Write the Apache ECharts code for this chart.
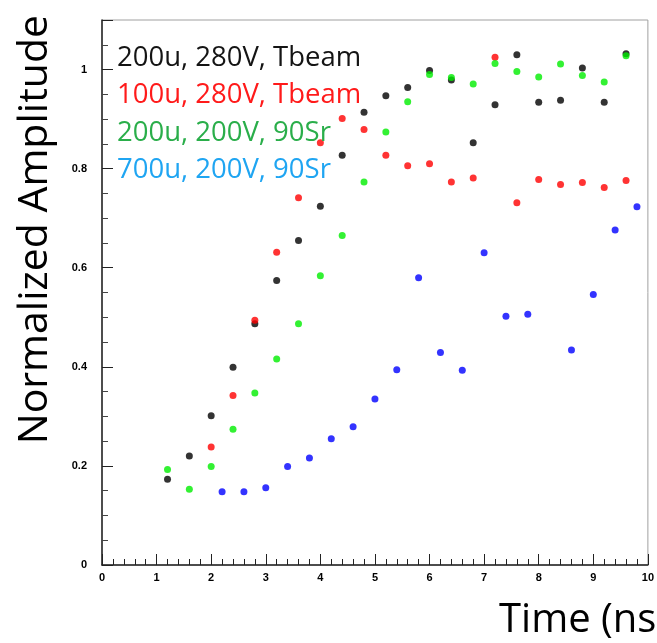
<!DOCTYPE html>
<html>
<head>
<meta charset="utf-8">
<script src="https://cdn.jsdelivr.net/npm/echarts@6/dist/echarts.min.js"></script>
<style>
  html, body { margin: 0; padding: 0; background: #fff; }
  #chart { width: 657px; height: 643px; }
</style>
</head>
<body>
<div id="chart"></div>
<script>
// ---- data ----
const seriesNames = ['200u, 280V, Tbeam', '100u, 280V, Tbeam', '200u, 200V, 90Sr', '700u, 200V, 90Sr'];
const legendColors = ['#141414', '#ff1a1a', '#2aae4a', '#1fa5f2'];
const markerColors = ['#000000', '#ff0000', '#00ee00', '#0000ff'];

const xBlack = [1.2, 1.6, 2.0, 2.4, 2.8, 3.2, 3.6, 4.0, 4.4, 4.8, 5.2, 5.6, 6.0, 6.4, 6.8, 7.2, 7.6, 8.0, 8.4, 8.8, 9.2, 9.6];
const yBlack = [0.173, 0.220, 0.301, 0.399, 0.487, 0.574, 0.655, 0.724, 0.827, 0.914, 0.947, 0.964, 0.998, 0.979, 0.852, 0.929, 1.030, 0.934, 0.938, 1.003, 0.934, 1.032];

const xRed = [2.0, 2.4, 2.8, 3.2, 3.6, 4.0, 4.4, 4.8, 5.2, 5.6, 6.0, 6.4, 6.8, 7.2, 7.6, 8.0, 8.4, 8.8, 9.2, 9.6];
const yRed = [0.238, 0.342, 0.494, 0.631, 0.741, 0.852, 0.901, 0.879, 0.827, 0.806, 0.810, 0.773, 0.781, 1.025, 0.731, 0.778, 0.768, 0.772, 0.762, 0.776];

const xGreen = [1.2, 1.6, 2.0, 2.4, 2.8, 3.2, 3.6, 4.0, 4.4, 4.8, 5.2, 5.6, 6.0, 6.4, 6.8, 7.2, 7.6, 8.0, 8.4, 8.8, 9.2, 9.6];
const yGreen = [0.193, 0.153, 0.199, 0.274, 0.347, 0.416, 0.487, 0.584, 0.665, 0.773, 0.874, 0.935, 0.990, 0.984, 0.971, 1.012, 0.996, 0.985, 1.011, 0.988, 0.975, 1.028];

const xBlue = [2.2, 2.6, 3.0, 3.4, 3.8, 4.2, 4.6, 5.0, 5.4, 5.8, 6.2, 6.6, 7.0, 7.4, 7.8, 8.6, 9.0, 9.4, 9.8];
const yBlue = [0.148, 0.148, 0.156, 0.199, 0.216, 0.255, 0.279, 0.335, 0.394, 0.580, 0.429, 0.393, 0.630, 0.502, 0.506, 0.434, 0.546, 0.676, 0.723];

const xTitle = 'Time (ns)';
const yTitle = 'Normalized Amplitude';

// ---- build ----
const xs = [xBlack, xRed, xGreen, xBlue];
const ys = [yBlack, yRed, yGreen, yBlue];
const pair = (a, b) => a.map((v, i) => [v, b[i]]);

const chart = echarts.init(document.getElementById('chart'), null, { renderer: 'canvas' });

const tickFont = { fontFamily: 'Liberation Sans', fontSize: 11, fontWeight: 'bold', color: '#000' };

chart.setOption({
  animation: false,
  backgroundColor: '#fff',
  grid: { left: 102, right: 8, top: 20, bottom: 78, show: true, borderColor: '#a0a0a0', borderWidth: 1, containLabel: false },
  xAxis: {
    type: 'value', min: 0, max: 10, interval: 1,
    axisLine: { show: true, lineStyle: { color: '#222', width: 1.5 } },
    axisTick: { show: true, inside: true, length: 11, lineStyle: { color: '#222' } },
    minorTick: { show: true, splitNumber: 5, length: 6, lineStyle: { color: '#222' } },
    splitLine: { show: false },
    axisLabel: Object.assign({ margin: 7 }, tickFont)
  },
  yAxis: {
    type: 'value', min: 0, max: 1.1, interval: 0.2,
    axisLine: { show: true, lineStyle: { color: '#222', width: 1.5 } },
    axisTick: { show: true, inside: true, length: 11, lineStyle: { color: '#222' } },
    minorTick: { show: true, splitNumber: 4, length: 6, lineStyle: { color: '#444' } },
    splitLine: { show: false },
    axisLabel: Object.assign({ margin: 15, showMaxLabel: false, formatter: v => String(Math.round(v * 10) / 10) }, tickFont)
  },
  legend: {
    show: true, orient: 'vertical', left: 112, top: 39, padding: 0,
    icon: 'none', itemWidth: 0, itemHeight: 10, itemGap: 0,
    selectedMode: false,
    data: seriesNames.map((n, i) => ({ name: n, icon: 'none', textStyle: { color: legendColors[i] } })),
    textStyle: { fontFamily: 'Open Sans', fontSize: 27.5, lineHeight: 37.5, padding: 0 }
  },
  graphic: [
    { type: 'text', left: 15, top: 15, rotation: Math.PI / 2,
      style: { text: yTitle, fontFamily: 'Open Sans', fontSize: 41, fill: '#000' } },
    { type: 'text', left: 499, top: 601,
      style: { text: xTitle, fontFamily: 'Open Sans', fontSize: 40, fill: '#000' } }
  ],
  series: seriesNames.map((n, i) => ({
    name: n, type: 'scatter', symbol: 'circle', symbolSize: 7,
    itemStyle: { color: markerColors[i] },
    data: pair(xs[i], ys[i])
  }))
});
</script>
</body>
</html>
